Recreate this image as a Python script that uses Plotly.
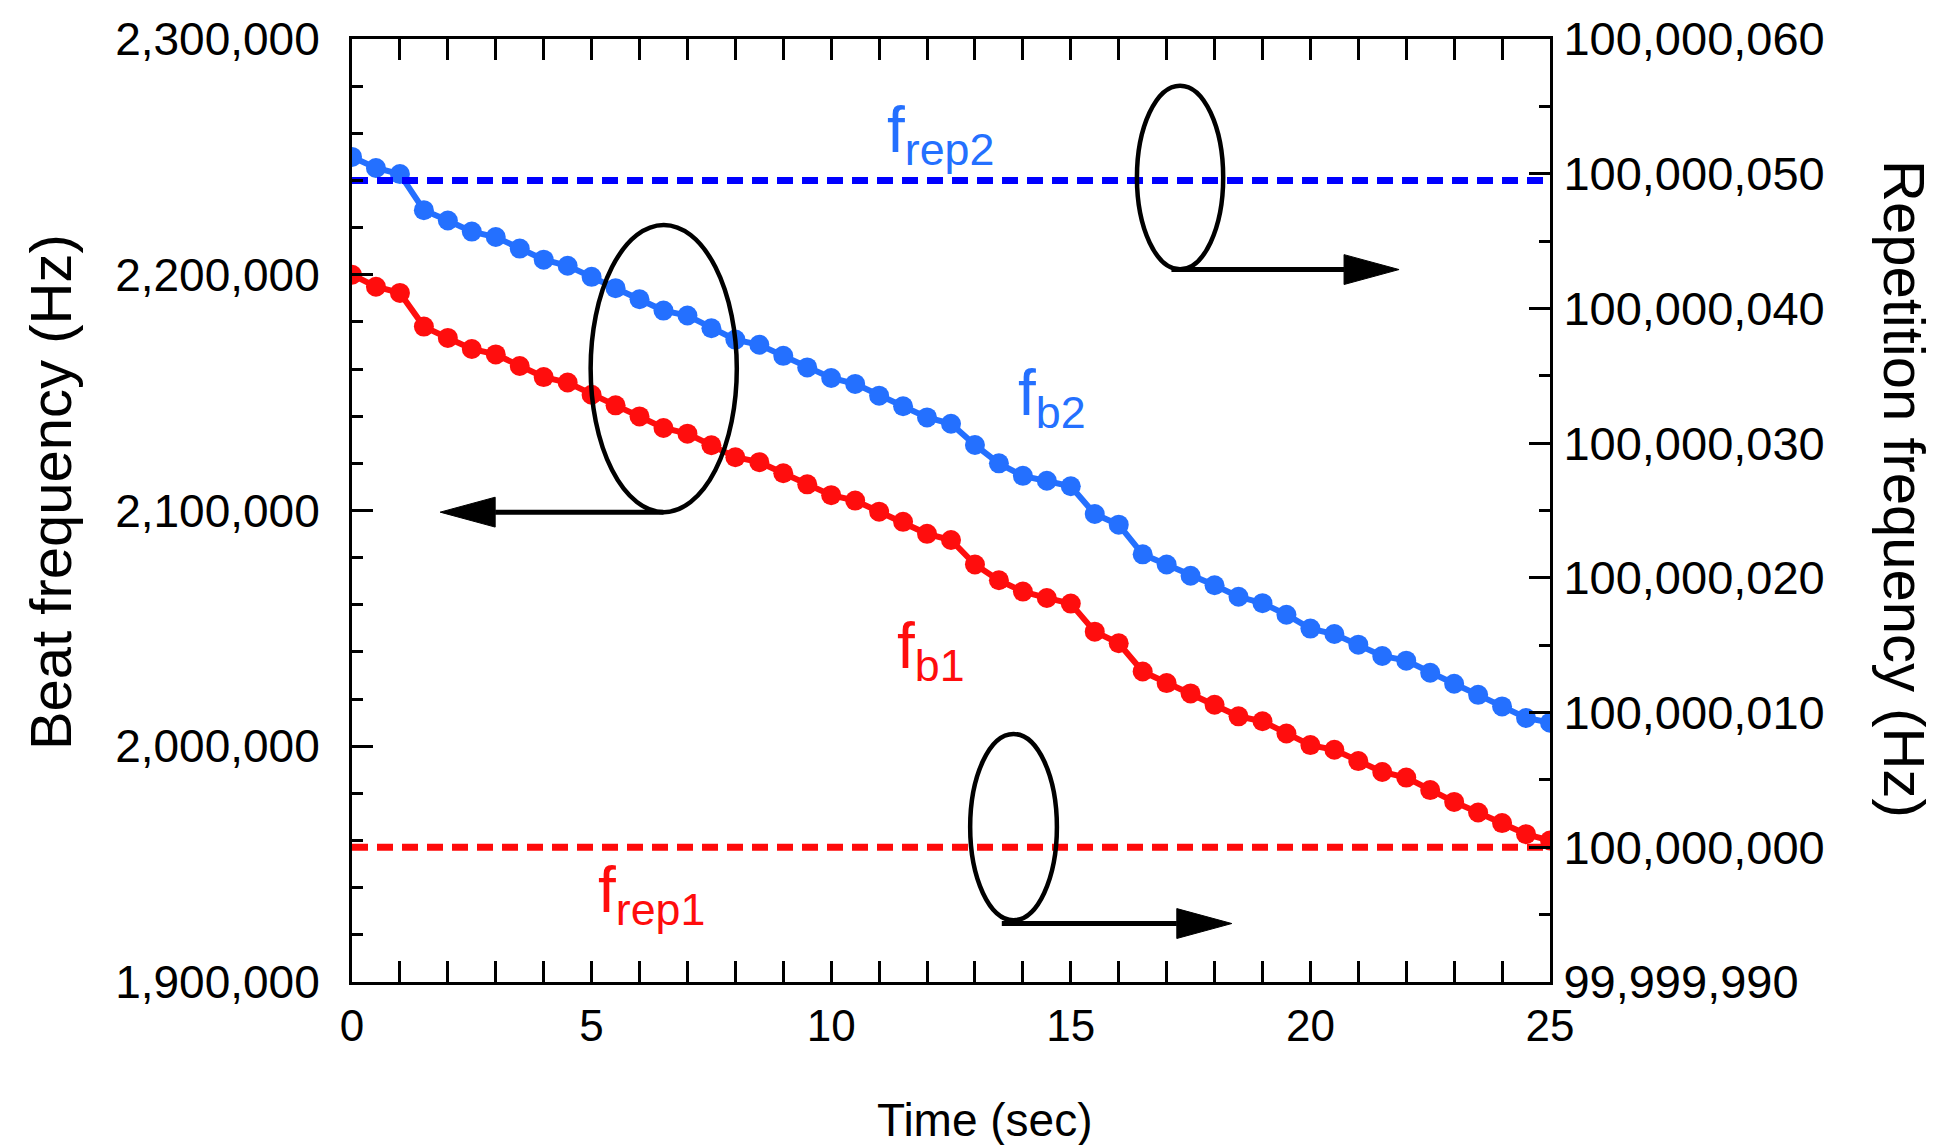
import plotly.graph_objects as go

# Sampling instants (s)
time_s = [0.0, 0.5, 1.0, 1.5, 2.0, 2.5, 3.0, 3.5, 4.0, 4.5,
          5.0, 5.5, 6.0, 6.5, 7.0, 7.5, 8.0, 8.5, 9.0, 9.5,
          10.0, 10.5, 11.0, 11.5, 12.0, 12.5, 13.0, 13.5, 14.0, 14.5,
          15.0, 15.5, 16.0, 16.5, 17.0, 17.5, 18.0, 18.5, 19.0, 19.5,
          20.0, 20.5, 21.0, 21.5, 22.0, 22.5, 23.0, 23.5, 24.0, 24.5, 25.0]

# Beat frequency of laser 2 (Hz)
fb2 = [2250000, 2245300, 2242700, 2227400, 2223000, 2218300, 2216000, 2211100, 2206400, 2203800,
       2199100, 2194300, 2189600, 2184800, 2182700, 2177300, 2172500, 2170300, 2165600, 2160700,
       2156200, 2153700, 2148700, 2144200, 2139500, 2136800, 2127800, 2120000, 2114700, 2112600,
       2110300, 2098500, 2094000, 2081400, 2077100, 2072300, 2068300, 2063400, 2060700, 2055800,
       2049900, 2047600, 2043100, 2038300, 2036300, 2031200, 2026500, 2021800, 2016900, 2012000, 2010000]

# Beat frequency of laser 1 (Hz)
fb1 = [2200000, 2194900, 2192300, 2178000, 2173200, 2168500, 2166200, 2161300, 2156600, 2154300,
       2149100, 2144600, 2139900, 2135000, 2132600, 2127700, 2122600, 2120500, 2115800, 2111100,
       2106500, 2104200, 2099500, 2095200, 2090100, 2087500, 2077100, 2070400, 2065600, 2062900,
       2060500, 2048600, 2043700, 2031700, 2026800, 2022400, 2017600, 2012700, 2010600, 2005400,
       2000500, 1998500, 1993700, 1989100, 1986700, 1981400, 1976400, 1971900, 1967400, 1962700, 1960000]

# Repetition frequencies (Hz), held constant over the record
frep1 = 100000000.0
frep2 = 100000049.5

BLUE = "#2470FF"
RED = "#FF0D0D"
FONT = "Liberation Sans, Arial, sans-serif"

W, H = 1945, 1145
ML, MR, MT, MB = 352, 395, 35, 163
PW, PH = W - ML - MR, H - MT - MB

X_RANGE = [0, 25]
Y_RANGE = [1900000, 2300000]
Y2_RANGE = [99999990, 100000060]

# data units per screen pixel, used to size arrowheads
DX = (X_RANGE[1] - X_RANGE[0]) / PW
DY = (Y_RANGE[1] - Y_RANGE[0]) / PH


def paper_x(px):
    return (px - ML) / PW


def paper_y(py):
    return (H - MB - py) / PH


fig = go.Figure()

fig.add_trace(go.Scatter(x=time_s, y=fb2, mode="lines+markers", name="fb2",
                         line=dict(color=BLUE, width=6),
                         marker=dict(color=BLUE, size=20)))
fig.add_trace(go.Scatter(x=time_s, y=fb1, mode="lines+markers", name="fb1",
                         line=dict(color=RED, width=6),
                         marker=dict(color=RED, size=20)))
fig.add_trace(go.Scatter(x=X_RANGE, y=[frep2, frep2], mode="lines", name="frep2", yaxis="y2",
                         line=dict(color="#0000FF", width=7, dash="16px,9px")))
fig.add_trace(go.Scatter(x=X_RANGE, y=[frep1, frep1], mode="lines", name="frep1", yaxis="y2",
                         line=dict(color="#FF0A0A", width=7, dash="16px,9px")))

axis_common = dict(showline=True, linecolor="black", linewidth=3, showgrid=False,
                   zeroline=False, ticks="inside", tickcolor="black", tickwidth=3,
                   ticklen=21)

fig.update_layout(
    width=W, height=H, autosize=False,
    margin=dict(l=ML, r=MR, t=MT, b=MB),
    plot_bgcolor="white", paper_bgcolor="white",
    showlegend=False,
    font=dict(family=FONT, color="black"),
    xaxis=dict(range=X_RANGE, tick0=0, dtick=5, mirror="allticks",
               tickfont=dict(size=44, family=FONT), ticklabelstandoff=3,
               minor=dict(dtick=1, ticks="inside", ticklen=11, tickwidth=3, tickcolor="black"),
               **axis_common),
    yaxis=dict(range=Y_RANGE, tick0=1900000, dtick=100000, tickformat=",",
               tickfont=dict(size=46, family=FONT), ticklabelstandoff=20,
               minor=dict(dtick=20000, ticks="inside", ticklen=11, tickwidth=3, tickcolor="black"),
               **axis_common),
    yaxis2=dict(range=Y2_RANGE, overlaying="y", side="right", tick0=99999990, dtick=10,
                tickformat=",.0f", tickfont=dict(size=47, family=FONT), ticklabelstandoff=1,
                minor=dict(dtick=5, ticks="inside", ticklen=11, tickwidth=3, tickcolor="black"),
                **axis_common),
)

# Axis titles
fig.add_annotation(text="Time (sec)", xref="paper", yref="paper",
                   x=paper_x(985), y=paper_y(1121), xanchor="center", yanchor="middle",
                   showarrow=False, font=dict(size=46, family=FONT))
fig.add_annotation(text="Beat frequency (Hz)", xref="paper", yref="paper",
                   x=paper_x(50), y=paper_y(490), xanchor="center", yanchor="middle",
                   textangle=-90, showarrow=False, font=dict(size=58, family=FONT))
fig.add_annotation(text="Repetition frequency (Hz)", xref="paper", yref="paper",
                   x=paper_x(1905), y=paper_y(487), xanchor="center", yanchor="middle",
                   textangle=90, showarrow=False, font=dict(size=58, family=FONT))

# Curve labels
labels = [
    ("f<sub>rep2</sub>", 12.29, 2259500, BLUE),
    ("f<sub>b2</sub>", 14.61, 2148000, BLUE),
    ("f<sub>b1</sub>", 12.08, 2041000, RED),
    ("f<sub>rep1</sub>", 6.24, 1937200, RED),
]
for txt, lx, ly, col in labels:
    fig.add_annotation(text=txt, x=lx, y=ly, xref="x", yref="y",
                       xanchor="center", yanchor="middle", showarrow=False,
                       font=dict(size=64, color=col, family=FONT))

# Ellipses marking which curves belong to which axis, with arrows toward that axis
ellipses = [
    (4.98, 8.03, 2099300, 2221100),
    (16.38, 18.18, 2202300, 2280200),
    (12.90, 14.71, 1926200, 2005200),
]
for x0, x1, y0, y1 in ellipses:
    fig.add_shape(type="circle", xref="x", yref="y", x0=x0, x1=x1, y0=y0, y1=y1,
                  line=dict(color="black", width=4.5))

HEAD_LEN = 55 * DX
HEAD_HALF = 15 * DY
arrows = [
    # (start x, tip x, y)
    (6.50, 1.84, 2099300),
    (17.10, 21.85, 2202200),
    (13.56, 18.36, 1924800),
]
for xs, xt, ya in arrows:
    sgn = 1 if xt > xs else -1
    xb = xt - sgn * HEAD_LEN
    fig.add_shape(type="line", xref="x", yref="y", x0=xs, x1=xb, y0=ya, y1=ya,
                  line=dict(color="black", width=5))
    path = f"M {xt},{ya} L {xb},{ya + HEAD_HALF} L {xb},{ya - HEAD_HALF} Z"
    fig.add_shape(type="path", xref="x", yref="y", path=path,
                  fillcolor="black", line=dict(color="black", width=1))

fig.write_html("out.html")
